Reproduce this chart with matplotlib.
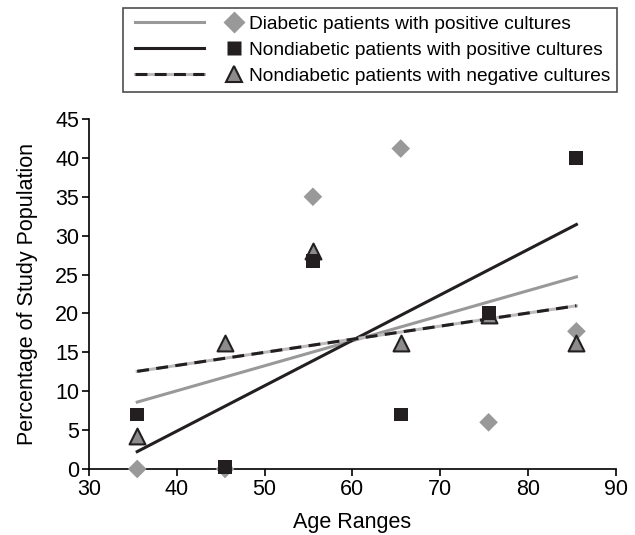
import numpy as np
import matplotlib.pyplot as plt
from matplotlib.lines import Line2D
from matplotlib.legend_handler import HandlerBase

plt.rcParams['font.family'] = ['Liberation Sans', 'DejaVu Sans']

# Age range midpoints and percentages of each group
ages = [35.5, 45.5, 55.5, 65.5, 75.5, 85.5]
diabetic_pos = [0.0, 0.0, 35.0, 41.2, 6.0, 17.7]
nondiabetic_pos = [7.0, 0.3, 26.7, 7.0, 20.0, 40.0]
nondiabetic_neg = [4.2, 16.2, 28.0, 16.2, 19.8, 16.2]
labels = ['Diabetic patients with positive cultures',
          'Nondiabetic patients with positive cultures',
          'Nondiabetic patients with negative cultures']

gray = '#999999'
light = '#bbbbbb'
dark = '#231f20'
LW = 2.2
DASH = (3.9, 2.4)

fig = plt.figure(figsize=(6.35, 5.35), dpi=100)
ax = fig.add_axes([0.140, 0.1234, 0.830, 0.6542])

x = np.array(ages)
xl = np.array([x.min(), x.max()])

# linear trend lines
m1, c1 = np.polyfit(x, diabetic_pos, 1)
m2, c2 = np.polyfit(x, nondiabetic_pos, 1)
m3, c3 = np.polyfit(x, nondiabetic_neg, 1)
ax.plot(xl, m1 * xl + c1, color=gray, lw=LW, zorder=2)
ax.plot(xl, m2 * xl + c2, color=dark, lw=LW, zorder=2)
ax.plot(xl, m3 * xl + c3, color=light, lw=LW, zorder=2)
ax.plot(xl, m3 * xl + c3, color=dark, lw=LW, dashes=DASH, zorder=2)

# points
ax.scatter(ages, diabetic_pos, marker='D', s=90, color=gray, edgecolors='none', zorder=3, clip_on=False)
ax.scatter(ages, nondiabetic_neg, marker='^', s=130, facecolor='#8c8c8c', edgecolors=dark, linewidths=1.5, zorder=4, clip_on=False)
ax.scatter(ages, nondiabetic_pos, marker='s', s=100, color=dark, edgecolors='none', zorder=5, clip_on=False)

ax.set_xlim(30, 90)
ax.set_ylim(0, 45)
ax.set_xticks(range(30, 91, 10))
ax.set_yticks(range(0, 46, 5))
ax.spines['top'].set_visible(False)
ax.spines['right'].set_visible(False)
ax.spines['left'].set_linewidth(1.2)
ax.spines['bottom'].set_linewidth(1.2)
ax.tick_params(direction='out', length=5, width=1.2, labelsize=15.5, pad=2)
ax.set_xlabel('Age Ranges', fontsize=15.5, labelpad=9)
ax.set_ylabel('Percentage of Study Population', fontsize=15.5, labelpad=12)


class LineThenMarker(HandlerBase):
    """line on the left part of the handle box, marker on the right"""
    def create_artists(self, legend, orig_handle, xdescent, ydescent,
                       width, height, fontsize, trans):
        lines, marker = orig_handle
        y = height / 2 - ydescent
        x0 = -xdescent
        out = []
        for ln in lines:
            a = Line2D([x0 + 0.04 * width, x0 + 0.66 * width], [y, y])
            a.update_from(ln)
            a.set_transform(trans)
            out.append(a)
        m = Line2D([x0 + 0.93 * width], [y])
        m.update_from(marker)
        m.set_transform(trans)
        out.append(m)
        return out


h1 = ((Line2D([], [], color=gray, lw=LW),),
      Line2D([], [], ls='none', marker='D', ms=11, color=gray, mec='none'))
h2 = ((Line2D([], [], color=dark, lw=LW),),
      Line2D([], [], ls='none', marker='s', ms=9.5, color=dark, mec='none'))
h3 = ((Line2D([], [], color=light, lw=LW),
       Line2D([], [], color=dark, lw=LW, dashes=DASH)),
      Line2D([], [], ls='none', marker='^', ms=11, mfc='#8c8c8c', mec=dark, mew=1.5))
leg = fig.legend([h1, h2, h3], labels, loc='upper right',
                 bbox_to_anchor=(0.972, 0.985), fontsize=13.8, frameon=True,
                 fancybox=False, edgecolor=dark, handlelength=5.8,
                 handletextpad=0.35, labelspacing=0.45, borderpad=0.38,
                 borderaxespad=0, handler_map={tuple: LineThenMarker()})
leg.get_frame().set_linewidth(1.2)

plt.savefig('out.png')
